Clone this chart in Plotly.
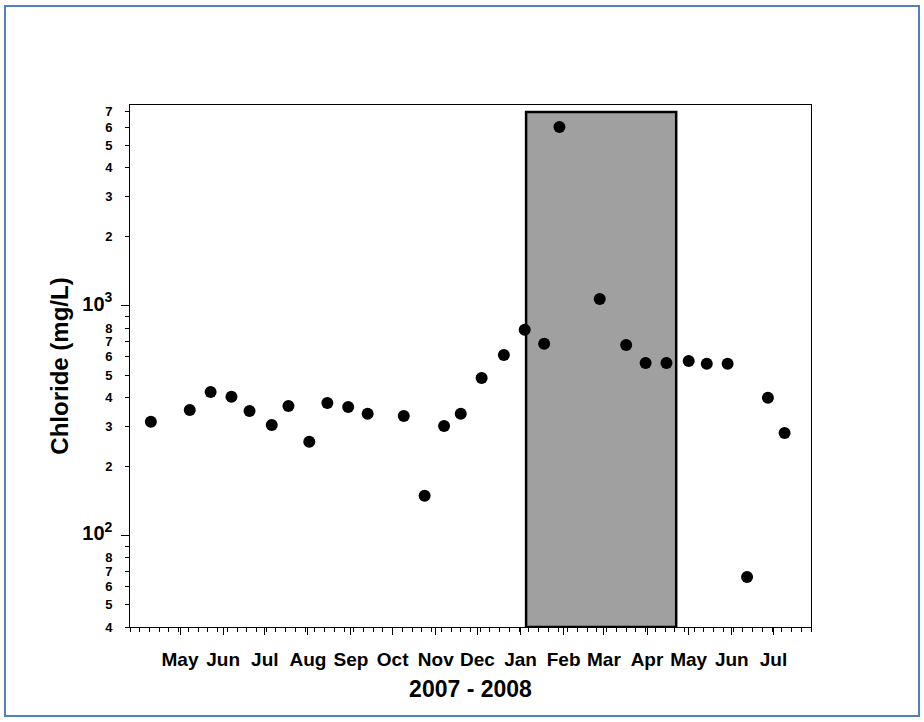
import math
import plotly.graph_objects as go

# ---- data ----
sample_dates = ["2007-04-10", "2007-05-08", "2007-05-23", "2007-06-07", "2007-06-20",
                "2007-07-06", "2007-07-18", "2007-08-02", "2007-08-15", "2007-08-30",
                "2007-09-13", "2007-10-09", "2007-10-24", "2007-11-07", "2007-11-19",
                "2007-12-04", "2007-12-20", "2008-01-04", "2008-01-18", "2008-01-29",
                "2008-02-27", "2008-03-17", "2008-03-31", "2008-04-15", "2008-05-01",
                "2008-05-14", "2008-05-29", "2008-06-12", "2008-06-27", "2008-07-09"]
chloride = [313, 352, 422, 402, 349, 303, 367, 256, 378, 363,
            339, 332, 149, 300, 339, 486, 612, 787, 684, 6013,
            1072, 676, 565, 565, 576, 560, 560, 66, 398, 280]

month_ticks = ["2007-05-01", "2007-06-01", "2007-07-01", "2007-08-01", "2007-09-01",
               "2007-10-01", "2007-11-01", "2007-12-01", "2008-01-01", "2008-02-01",
               "2008-03-01", "2008-04-01", "2008-05-01", "2008-06-01", "2008-07-01"]
month_labels = ["May", "Jun", "Jul", "Aug", "Sep", "Oct", "Nov", "Dec",
                "Jan", "Feb", "Mar", "Apr", "May", "Jun", "Jul"]

big10_2 = "<span style='font-size:20px'>10<sup>2</sup></span>"
big10_3 = "<span style='font-size:20px'>10<sup>3</sup></span>"
y_tickvals = [40, 50, 60, 70, 80, 100, 200, 300, 400, 500, 600, 700, 800,
              1000, 2000, 3000, 4000, 5000, 6000, 7000]
y_ticktext = ["4", "5", "6", "7", "8", big10_2, "2", "3", "4", "5", "6", "7", "8",
              big10_3, "2", "3", "4", "5", "6", "7"]
y_unlabeled = [90, 900]
y_decades = [100, 1000]

shade_start = "2008-01-05"
shade_end = "2008-04-22"
shade_bottom = 40
shade_top = 7000

x_range = ["2007-03-26", "2008-07-28"]
y_range_vals = [40, 7500]

# ---- figure ----
fig = go.Figure()
fig.add_trace(go.Scatter(
    x=sample_dates, y=chloride, mode="markers",
    marker=dict(color="black", size=12, line=dict(width=0)),
    showlegend=False,
))
# empty trace so the overlay axis (longer decade ticks) is drawn
fig.add_trace(go.Scatter(x=[], y=[], yaxis="y2", showlegend=False, hoverinfo="skip"))

fig.add_shape(type="rect", xref="x", yref="y",
              x0=shade_start, x1=shade_end, y0=shade_bottom, y1=shade_top,
              fillcolor="#A0A0A0", line=dict(color="black", width=2.5), layer="below")

# outer blue frame
fig.add_shape(type="rect", xref="paper", yref="paper",
              x0=-0.1836, x1=1.1586, y0=-0.1705, y1=1.1897,
              line=dict(color="#4F81BD", width=2), fillcolor="rgba(0,0,0,0)", layer="above")

FONT = "Liberation Sans, Arial, sans-serif"

fig.update_layout(
    width=924, height=722,
    margin=dict(l=130, r=113, t=105, b=95),
    paper_bgcolor="white", plot_bgcolor="white",
    font=dict(family=FONT, color="black"),
    showlegend=False,
)

fig.update_xaxes(
    type="date", range=x_range,
    tickmode="array", tickvals=month_ticks, ticktext=month_labels,
    ticks="outside", ticklen=7, tickwidth=1, tickcolor="black",
    tickfont=dict(family=FONT, size=19, weight="bold"),
    ticklabelstandoff=8,
    minor=dict(ticks="outside", ticklen=4, tickwidth=1, tickcolor="black",
               dtick=7 * 86400000, tick0="2007-04-09"),
    showline=True, linecolor="black", linewidth=1, mirror=True,
    showgrid=False, zeroline=False,
    title=dict(text="2007 - 2008", font=dict(family=FONT, size=23, weight="bold"), standoff=12),
)

y_log_range = [math.log10(v) for v in y_range_vals]

fig.update_layout(
    yaxis=dict(
        type="log", range=y_log_range,
        tickmode="array", tickvals=y_tickvals, ticktext=y_ticktext,
        ticks="outside", ticklen=4, tickwidth=1, tickcolor="black",
        tickfont=dict(family=FONT, size=13, weight="bold"),
        ticklabelstandoff=10,
        minor=dict(ticks="outside", ticklen=4, tickwidth=1, tickcolor="black",
                   tickmode="array", tickvals=y_unlabeled),
        showline=True, linecolor="black", linewidth=1, mirror=True,
        showgrid=False, zeroline=False,
        title=dict(text="Chloride (mg/L)", font=dict(family=FONT, size=24, weight="bold"),
                   standoff=6),
    ),
    yaxis2=dict(
        type="log", range=y_log_range, overlaying="y", side="left", anchor="x",
        tickmode="array", tickvals=y_decades, showticklabels=False,
        ticks="outside", ticklen=8, tickwidth=1, tickcolor="black",
        showline=False, showgrid=False, zeroline=False,
    ),
)

fig.write_html("out.html", config={"displayModeBar": False},
               post_script="document.body.style.margin='0';")
